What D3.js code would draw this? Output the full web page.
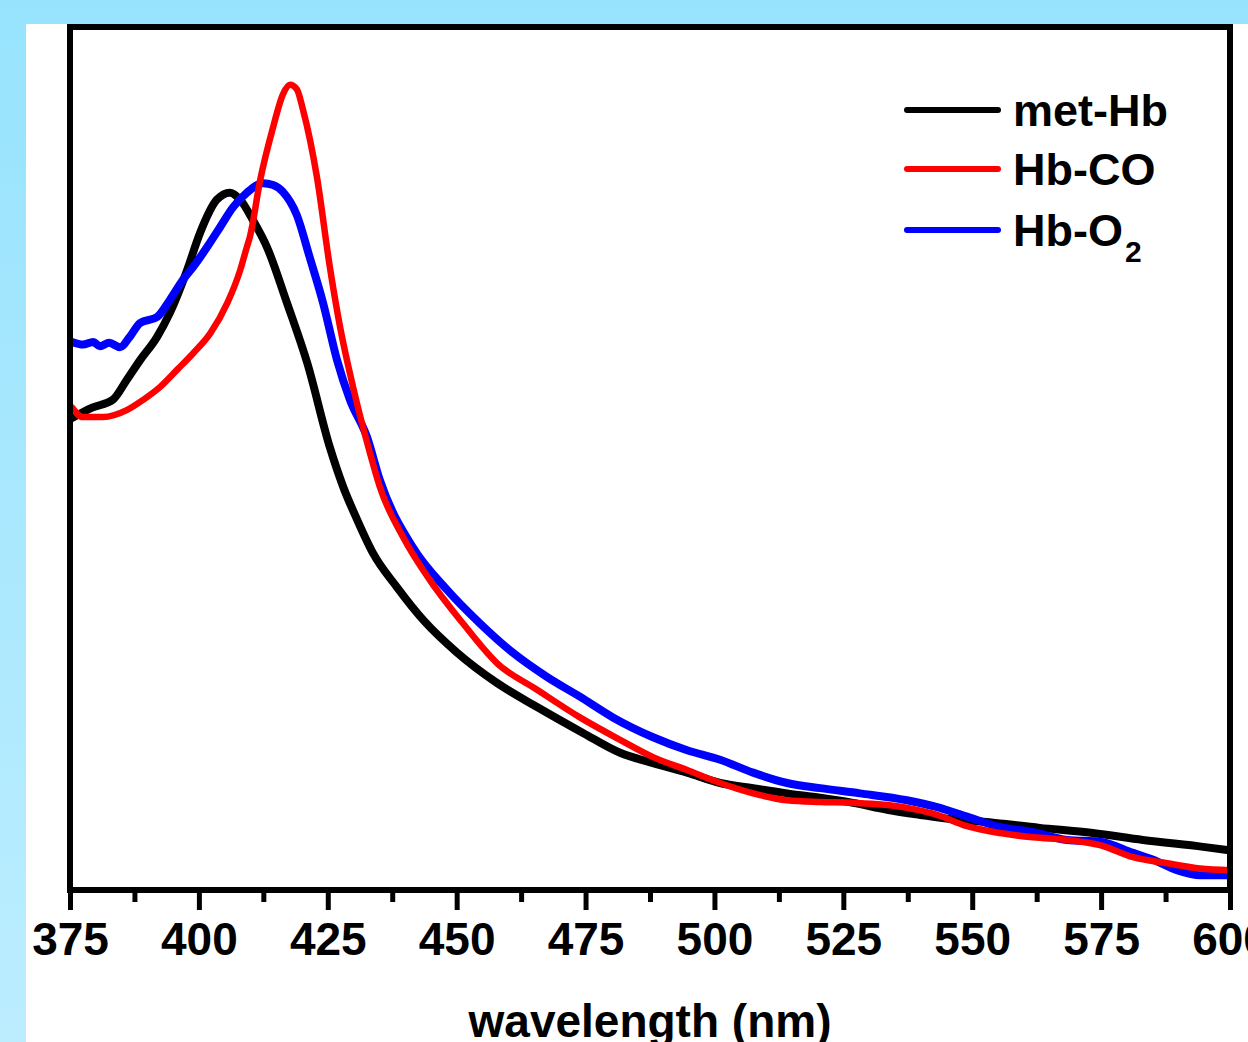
<!DOCTYPE html>
<html>
<head>
<meta charset="utf-8">
<script src="https://cdn.jsdelivr.net/npm/d3@7"></script>
<style>
  html, body { margin: 0; padding: 0; }
  body { width: 1248px; height: 1042px; overflow: hidden; }
  svg { display: block; }
</style>
</head>
<body>
<svg id="chart" width="1248" height="1042"></svg>
<script>
// UV-Vis absorption spectra of three haemoglobin forms (Soret region)
const seriesNames = ["met-Hb", "Hb-CO", "Hb-O2"];
const seriesColors = ["#000000", "#ff0000", "#0000ff"];

// wavelength (nm), absorbance (a.u.)
const metHbWavelength = [375.4, 379.3, 383.3, 386.0, 388.6, 391.9, 394.4, 397.7, 400.2, 403.5, 406.0, 408.0, 410.5, 413.2, 417.1, 421.0, 425.4, 428.0, 430.7, 433.8, 438.4, 443.5, 450.1, 457.8, 465.6, 474.5, 481.7, 488.1, 494.7, 501.1, 507.5, 514.1, 520.5, 526.9, 533.5, 539.9, 546.0, 552.1, 563.1, 573.4, 583.1, 594.8, 600.0];
const metHbAbs = [0.547, 0.559, 0.568, 0.591, 0.614, 0.641, 0.669, 0.718, 0.761, 0.800, 0.808, 0.800, 0.776, 0.745, 0.680, 0.611, 0.513, 0.467, 0.429, 0.390, 0.351, 0.313, 0.275, 0.240, 0.212, 0.182, 0.159, 0.147, 0.136, 0.124, 0.118, 0.112, 0.107, 0.101, 0.093, 0.087, 0.082, 0.079, 0.072, 0.066, 0.058, 0.050, 0.046];

const hbCOWavelength = [375.4, 377.5, 381.4, 386.0, 389.2, 392.5, 395.8, 398.9, 402.2, 405.5, 408.0, 409.3, 409.9, 411.9, 414.4, 416.3, 417.7, 419.0, 420.2, 422.9, 425.4, 427.4, 429.9, 433.2, 435.1, 439.6, 444.8, 451.2, 457.8, 465.6, 473.9, 481.7, 488.1, 494.7, 501.1, 507.5, 514.1, 520.5, 526.9, 536.6, 543.2, 549.0, 555.4, 561.8, 568.4, 574.8, 581.2, 587.8, 594.2, 600.0];
const hbCOAbs = [0.559, 0.548, 0.548, 0.556, 0.568, 0.583, 0.603, 0.622, 0.645, 0.680, 0.718, 0.745, 0.757, 0.823, 0.884, 0.922, 0.933, 0.928, 0.904, 0.826, 0.722, 0.652, 0.583, 0.506, 0.467, 0.409, 0.359, 0.309, 0.263, 0.232, 0.200, 0.174, 0.154, 0.139, 0.124, 0.112, 0.104, 0.102, 0.101, 0.096, 0.087, 0.074, 0.066, 0.061, 0.058, 0.052, 0.038, 0.031, 0.025, 0.023];

const hbO2Wavelength = [375.4, 377.5, 379.5, 380.8, 382.6, 384.7, 386.6, 388.6, 391.9, 394.4, 396.9, 398.9, 401.6, 404.1, 406.6, 409.3, 412.4, 414.4, 416.3, 419.0, 421.5, 424.1, 426.8, 429.3, 432.6, 435.1, 441.5, 448.1, 454.5, 460.9, 467.5, 473.9, 480.3, 488.1, 494.7, 501.1, 507.5, 514.1, 520.5, 528.2, 537.3, 543.2, 549.0, 555.4, 561.8, 568.4, 574.8, 581.2, 585.1, 589.7, 594.2, 600.0];
const hbO2Abs = [0.635, 0.632, 0.635, 0.630, 0.634, 0.629, 0.641, 0.657, 0.664, 0.684, 0.707, 0.722, 0.745, 0.768, 0.791, 0.808, 0.819, 0.817, 0.809, 0.782, 0.733, 0.680, 0.614, 0.568, 0.525, 0.475, 0.397, 0.348, 0.309, 0.275, 0.247, 0.224, 0.200, 0.177, 0.162, 0.151, 0.136, 0.124, 0.118, 0.112, 0.104, 0.096, 0.085, 0.073, 0.067, 0.058, 0.056, 0.043, 0.035, 0.023, 0.017, 0.017];

const majorTicks = [375, 400, 425, 450, 475, 500, 525, 550, 575, 600];
const minorTicks = [387.5, 412.5, 437.5, 462.5, 487.5, 512.5, 537.5, 562.5, 587.5];
const xTitle = "wavelength (nm)";

const svg = d3.select("#chart");
const W = 1248, H = 1042;
const plot = { left: 70, right: 1230, top: 27, bottom: 890 };
const FONT = "'Liberation Sans', Arial, Helvetica, sans-serif";

// backdrop
const defs = svg.append("defs");
const grad = defs.append("linearGradient").attr("id", "bg").attr("x1", 0).attr("y1", 0).attr("x2", 0).attr("y2", 1);
grad.append("stop").attr("offset", "0%").attr("stop-color", "#97e3fd");
grad.append("stop").attr("offset", "100%").attr("stop-color", "#bcedff");
svg.append("rect").attr("width", W).attr("height", H).attr("fill", "url(#bg)");
svg.append("rect").attr("x", 26).attr("y", 24).attr("width", W - 26).attr("height", H - 24).attr("fill", "#ffffff");

const x = d3.scaleLinear().domain([375, 600]).range([plot.left, plot.right]);
const y = d3.scaleLinear().domain([0, 1]).range([plot.bottom, plot.top]);

const clip = defs.append("clipPath").attr("id", "plotClip");
clip.append("rect").attr("x", plot.left).attr("y", plot.top)
  .attr("width", plot.right - plot.left).attr("height", plot.bottom - plot.top);

const series = [
  { name: seriesNames[0], color: seriesColors[0], w: metHbWavelength, a: metHbAbs, width: 8 },
  { name: seriesNames[2], color: seriesColors[2], w: hbO2Wavelength, a: hbO2Abs, width: 8 },
  { name: seriesNames[1], color: seriesColors[1], w: hbCOWavelength, a: hbCOAbs, width: 6.5 }
];

const line = d3.line()
  .x(d => x(d[0]))
  .y(d => y(d[1]))
  .curve(d3.curveMonotoneX);

const lines = svg.append("g").attr("clip-path", "url(#plotClip)");
series.forEach(s => {
  const pts = s.w.map((w, i) => [w, s.a[i]]);
  lines.append("path")
    .datum(pts)
    .attr("d", line)
    .attr("fill", "none")
    .attr("stroke", s.color)
    .attr("stroke-width", s.width)
    .attr("stroke-linejoin", "round")
    .attr("stroke-linecap", "round");
});

// frame
svg.append("rect")
  .attr("x", plot.left).attr("y", plot.top)
  .attr("width", plot.right - plot.left).attr("height", plot.bottom - plot.top)
  .attr("fill", "none").attr("stroke", "#000").attr("stroke-width", 6);

// bottom axis: minor ticks then major ticks with labels
const minorAxis = d3.axisBottom(x).tickValues(minorTicks).tickSize(12).tickFormat("");
const gMinor = svg.append("g").attr("transform", `translate(0,${plot.bottom})`).call(minorAxis);
gMinor.select(".domain").remove();
gMinor.selectAll(".tick line").attr("stroke", "#000").attr("stroke-width", 5);

const majorAxis = d3.axisBottom(x).tickValues(majorTicks).tickSize(20).tickPadding(12).tickFormat(d3.format("d"));
const gMajor = svg.append("g").attr("transform", `translate(0,${plot.bottom})`).call(majorAxis);
gMajor.select(".domain").remove();
gMajor.selectAll(".tick line").attr("stroke", "#000").attr("stroke-width", 5);
gMajor.selectAll(".tick text")
  .attr("fill", "#000")
  .style("font-family", FONT)
  .style("font-weight", "bold")
  .style("font-size", "46px");

svg.append("text")
  .attr("x", (plot.left + plot.right) / 2)
  .attr("y", 1037)
  .attr("text-anchor", "middle")
  .style("font-family", FONT)
  .style("font-weight", "bold")
  .style("font-size", "46px")
  .text(xTitle);

// legend
const legendRows = [
  { label: "met-Hb", color: seriesColors[0], y: 110 },
  { label: "Hb-CO", color: seriesColors[1], y: 169 },
  { label: "Hb-O", sub: "2", color: seriesColors[2], y: 230 }
];
const legend = svg.append("g");
legendRows.forEach(r => {
  legend.append("line")
    .attr("x1", 907).attr("x2", 998)
    .attr("y1", r.y).attr("y2", r.y)
    .attr("stroke", r.color).attr("stroke-width", 6)
    .attr("stroke-linecap", "round");
  const t = legend.append("text")
    .attr("x", 1013).attr("y", r.y + 16)
    .style("font-family", FONT)
    .style("font-weight", "bold")
    .style("font-size", "45px")
    .text(r.label);
  if (r.sub) {
    t.append("tspan").attr("dy", 16).attr("dx", 2).style("font-size", "30px").text(r.sub);
  }
});
</script>
</body>
</html>
